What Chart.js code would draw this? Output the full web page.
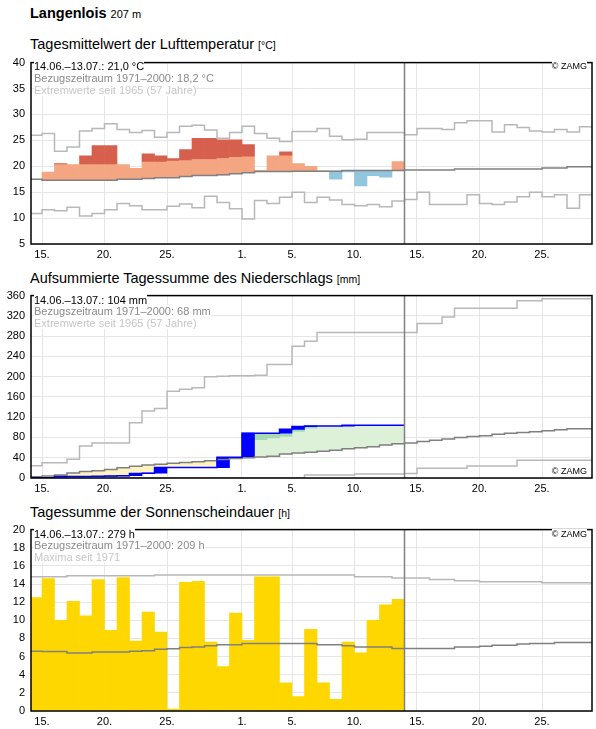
<!DOCTYPE html>
<html lang="de">
<head>
<meta charset="UTF-8">
<title>Langenlois</title>
<script src="https://cdn.jsdelivr.net/npm/chart.js"></script>
<style>
body { margin:0; background:#fff; font-family: Arial, "Liberation Sans", sans-serif; }
#page { position:relative; width:596px; height:729px; overflow:hidden; }
canvas { position:absolute; left:0; }
.hd { position:absolute; left:30px; font-size:14.5px; font-weight:bold; line-height:17px; white-space:nowrap; }
.hd span { font-weight:normal; font-size:11px; }
.ttl { position:absolute; left:30px; font-size:14.5px; line-height:17px; white-space:nowrap; color:#000; }
.ttl span { font-size:10.5px; }
.info { position:absolute; left:34px; font-size:11px; white-space:nowrap; }
.info span { background:#fff; }
.l1 { color:#000; } .l2 { color:#8a8a8a; } .l3 { color:#c6c6c6; }
.zamg { position:absolute; right:9px; font-size:9px; line-height:11px; background:#fff; color:#000; }
</style>
</head>
<body>
<div id="page">
  <div class="hd" style="top:5px">Langenlois <span>207 m</span></div>

  <div class="ttl" style="top:36px">Tagesmittelwert der Lufttemperatur <span>[°C]</span></div>
  <canvas id="tempChart" width="596" height="216" style="top:50px"></canvas>
  <div class="info" style="top:59.5px;line-height:12px">
    <div class="l1"><span>14.06.–13.07.: 21,0 °C</span></div>
    <div class="l2"><span>Bezugszeitraum 1971–2000: 18,2 °C</span></div>
    <div class="l3"><span>Extremwerte seit 1965 (57 Jahre)</span></div>
  </div>
  <div class="zamg" style="top:61px">© ZAMG</div>

  <div class="ttl" style="top:270px">Aufsummierte Tagessumme des Niederschlags <span>[mm]</span></div>
  <canvas id="rainChart" width="596" height="217" style="top:283px"></canvas>
  <div class="info" style="top:294.7px;line-height:11.5px">
    <div class="l1"><span>14.06.–13.07.: 104 mm</span></div>
    <div class="l2"><span>Bezugszeitraum 1971–2000: 68 mm</span></div>
    <div class="l3"><span>Extremwerte seit 1965 (57 Jahre)</span></div>
  </div>
  <div class="zamg" style="top:466px">© ZAMG</div>

  <div class="ttl" style="top:503.5px">Tagessumme der Sonnenscheindauer <span>[h]</span></div>
  <canvas id="sunChart" width="596" height="216" style="top:517px"></canvas>
  <div class="info" style="top:528.7px;line-height:11.5px">
    <div class="l1"><span>14.06.–13.07.: 279 h</span></div>
    <div class="l2"><span>Bezugszeitraum 1971–2000: 209 h</span></div>
    <div class="l3"><span>Maxima seit 1971</span></div>
  </div>
  <div class="zamg" style="top:529px">© ZAMG</div>
</div>

<script>
// day index 0 = 14.06., 44 = 28.07.; observed days are 0..29 (14.06.–13.07.)
const tickDays = [1, 6, 11, 17, 21, 26, 31, 36, 41];
const tickLabels = ['15.', '20.', '25.', '1.', '5.', '10.', '15.', '20.', '25.'];
const nowDay = 30;

// Lufttemperatur (°C)
const tempValues = [17.5, 18.9, 20.5, 20.3, 22.0, 24.0, 24.0, 20.3, 19.6, 22.4,
                    22.0, 21.5, 23.2, 25.4, 25.4, 25.1, 25.1, 24.2, 19.2, 22.0,
                    22.8, 20.5, 20.0, 19.1, 17.5, 18.9, 16.2, 18.2, 17.9, 20.9];
const tempBand = [20.3, 20.3, 20.3, 20.3, 20.3, 20.3, 20.3, 20.4, 20.6, 20.8,
                  20.8, 21.0, 21.1, 21.3, 21.3, 21.5, 21.7, 21.8, 21.9, 22.0,
                  22.0, 22.1, 22.1, 22.1, 22.2, 22.2, 22.2, 22.3, 22.3, 22.3];
const tempNormal = [17.5, 17.3, 17.3, 17.3, 17.3, 17.3, 17.3, 17.5, 17.5, 17.65,
                    17.8, 17.8, 18.0, 18.2, 18.2, 18.35, 18.55, 18.75, 19.0, 19.0,
                    19.0, 19.05, 19.05, 19.05, 19.05, 19.2, 19.2, 19.2, 19.2, 19.2,
                    19.3, 19.3, 19.3, 19.3, 19.45, 19.45, 19.45, 19.45, 19.45, 19.45,
                    19.45, 19.65, 19.65, 19.9, 19.9];
const tempMax = [26.0, 26.3, 22.9, 23.7, 26.8, 27.3, 28.2, 27.1, 26.5, 26.9,
                 25.6, 26.5, 27.7, 27.9, 27.0, 25.4, 26.5, 27.7, 26.3, 25.4,
                 24.8, 26.7, 26.7, 27.3, 25.8, 25.1, 25.2, 26.5, 26.5, 26.5,
                 26.1, 27.3, 27.3, 27.1, 28.4, 28.8, 28.8, 26.6, 28.0, 27.5,
                 26.8, 26.6, 27.1, 26.6, 27.6];
const tempMin = [10.9, 11.6, 11.4, 12.1, 10.4, 10.9, 11.6, 12.8, 12.4, 11.6,
                 11.6, 12.3, 12.7, 12.0, 14.2, 13.0, 11.8, 9.8, 13.4, 12.8,
                 14.0, 15.0, 13.0, 14.0, 13.5, 12.6, 12.4, 12.6, 12.2, 13.3,
                 13.6, 15.0, 12.6, 12.6, 12.6, 14.5, 12.8, 12.6, 13.1, 14.1,
                 15.0, 14.1, 14.5, 11.9, 14.5];

// Niederschlag, aufsummiert (mm)
const rainCum = [0.5, 0.5, 3, 3, 3, 3.5, 4, 4.5, 9, 9.5,
                 20.5, 20.5, 20.5, 20.5, 20.5, 41, 41, 88.5, 88.5, 88.5,
                 96, 101.5, 102.5, 102.5, 102.5, 104, 104, 104, 104, 104];
const rainDark = [null, null, null, null, null, null, null, null, null, null,
                  null, null, null, null, null, null, null, null, [75.5, 87.5], [79, 87.5],
                  [82, 88.5], [92, 96], [98.5, 101.5], null, null, null, null, null, null, null];
const rainNormal = [2.5, 4, 6, 10, 13, 14.5, 17, 20, 23, 25.5,
                    27, 29, 30.5, 32, 34, 36.5, 38.5, 40, 41.5, 43,
                    47.5, 49.5, 51, 53, 55, 57.5, 59.5, 61.5, 65, 67.5,
                    69, 72, 74.5, 77, 80, 82, 83.5, 86.5, 88.5, 90,
                    91.5, 93.5, 95, 97, 97];
const rainMax = [24, 30, 30, 37, 63, 69, 69, 69, 109, 132,
                 137, 171, 175, 178, 200, 201, 202, 202, 203, 224,
                 224, 260, 270, 287, 287, 287, 287, 287, 287, 287,
                 287, 305, 305, 318, 335, 335, 335, 335, 335, 350,
                 350, 354, 354, 354, 354];
const rainMin = [0, 0, 0, 0, 0, 0, 0, 0, 0, 0,
                 0, 0, 0, 0, 0, 0, 0, 0, 0, 0,
                 0, 0, 5.7, 5.7, 5.7, 5.7, 7.7, 7.7, 7.7, 7.7,
                 9, 19.3, 19.3, 19.3, 19.3, 23.8, 23.8, 23.8, 23.8, 34.8,
                 34.8, 34.8, 34.8, 34.8, 34.8];

// Sonnenscheindauer (h)
const sunValues = [12.5, 14.6, 10.0, 12.1, 10.5, 14.5, 8.9, 14.7, 7.7, 10.9,
                   8.7, 0.2, 14.2, 14.3, 7.6, 4.9, 10.8, 7.8, 14.8, 14.8,
                   3.1, 1.6, 9.0, 3.1, 1.3, 7.6, 6.4, 10.0, 11.7, 12.3];
const sunNormal = [6.6, 6.55, 6.55, 6.4, 6.4, 6.5, 6.5, 6.5, 6.6, 6.65,
                   6.8, 6.85, 7.0, 7.05, 7.2, 7.3, 7.3, 7.45, 7.45, 7.45,
                   7.45, 7.45, 7.45, 7.3, 7.3, 7.2, 7.05, 7.05, 7.05, 6.9,
                   6.9, 6.9, 6.9, 6.9, 7.05, 7.05, 7.15, 7.25, 7.25, 7.4,
                   7.45, 7.45, 7.55, 7.55, 7.55];
const sunMax = [14.8, 14.8, 14.8, 14.9, 14.9, 14.9, 14.9, 14.9, 14.9, 14.9,
                15.0, 15.0, 15.0, 15.0, 15.0, 15.0, 15.0, 15.0, 15.0, 15.0,
                15.0, 15.0, 15.0, 15.0, 15.0, 15.0, 14.8, 14.8, 14.8, 14.65,
                14.65, 14.65, 14.5, 14.5, 14.35, 14.35, 14.25, 14.25, 14.25, 14.25,
                14.25, 14.15, 14.15, 14.15, 14.15];

Chart.defaults.font.family = 'Arial, "Liberation Sans", sans-serif';
Chart.defaults.font.size = 11;

function stepLine(arr, color) {
  const pts = arr.map((v, i) => ({x: i, y: v}));
  pts.push({x: arr.length, y: arr[arr.length - 1]});
  return {type: 'line', data: pts, borderColor: color, borderWidth: 1.5,
          pointRadius: 0, stepped: true, fill: false, order: 0};
}

function floatBars(ranges, color, order) {
  const pts = [];
  ranges.forEach((r, i) => { if (r && r[1] > r[0]) pts.push({x: i + 0.5, y: r}); });
  return {type: 'bar', data: pts, backgroundColor: color, borderWidth: 0,
          grouped: false, barPercentage: 1, categoryPercentage: 1, order: order};
}

// plot frame + "today" line
const frame = {
  id: 'frame',
  afterDatasetsDraw(chart) {
    const {ctx, chartArea: a, scales} = chart;
    const x = scales.x.getPixelForValue(nowDay);
    ctx.save();
    ctx.strokeStyle = '#808080';
    ctx.lineWidth = 1.5;
    ctx.beginPath();
    ctx.moveTo(x, a.top);
    ctx.lineTo(x, a.bottom);
    ctx.stroke();
    ctx.strokeStyle = '#000';
    ctx.lineWidth = 1.5;
    ctx.strokeRect(a.left, a.top, a.right - a.left, a.bottom - a.top);
    ctx.restore();
  }
};

function makeChart(id, yMin, yMax, step, datasets) {
  return new Chart(document.getElementById(id), {
    type: 'bar',
    data: { datasets: datasets },
    options: {
      responsive: false,
      animation: false,
      layout: { padding: { top: 9, right: 4, left: 0, bottom: 0 } },
      plugins: { legend: { display: false }, tooltip: { enabled: false } },
      scales: {
        x: {
          type: 'linear', min: 0.12, max: 45, offset: false,
          grid: { color: '#e6e6e6', drawTicks: false, offset: false },
          border: { display: false },
          afterBuildTicks: s => { s.ticks = tickDays.map(v => ({ value: v })); },
          afterFit: s => { s.height = 22; },
          ticks: { autoSkip: false, maxRotation: 0, padding: 4, color: '#000',
                   callback: v => tickLabels[tickDays.indexOf(v)] }
        },
        y: {
          min: yMin, max: yMax,
          grid: { color: '#e6e6e6', drawTicks: false },
          border: { display: false },
          afterFit: s => { s.width = 31; },
          ticks: { stepSize: step, padding: 6, color: '#000' }
        }
      }
    },
    plugins: [frame]
  });
}

// temperature chart
const tSalmon = tempValues.map((v, i) => v > tempNormal[i] ? [tempNormal[i], Math.min(v, tempBand[i])] : null);
const tRed = tempValues.map((v, i) => v > tempBand[i] ? [tempBand[i], v] : null);
const tBlue = tempValues.map((v, i) => v < tempNormal[i] ? [v, tempNormal[i]] : null);

makeChart('tempChart', 5, 40, 5, [
  stepLine(tempMax, '#b8b8b8'),
  stepLine(tempMin, '#b8b8b8'),
  stepLine(tempNormal, '#808080'),
  floatBars(tSalmon, '#f4a582', 1),
  floatBars(tRed, '#d6604d', 1),
  floatBars(tBlue, '#92c5de', 1)
]);

// precipitation chart
const rYellow = rainCum.map((v, i) => v < rainNormal[i] ? [v, rainNormal[i]] : null);
const rGreen = rainCum.map((v, i) => v > rainNormal[i] ? [rainNormal[i], v] : null);
const rBlue = rainCum.map((v, i) => [i > 0 ? rainCum[i - 1] : 0, v]);

const rainLine = stepLine(rainCum, '#0000ff');
makeChart('rainChart', 0, 360, 40, [
  rainLine,
  stepLine(rainMax, '#b8b8b8'),
  stepLine(rainMin, '#b8b8b8'),
  stepLine(rainNormal, '#808080'),
  floatBars(rBlue, '#0000ff', 1),
  floatBars(rainDark, '#a6dab3', 2),
  floatBars(rYellow, '#fff4bf', 2),
  floatBars(rGreen, '#ddf1d9', 3)
]);

// sunshine chart
makeChart('sunChart', 0, 20, 2, [
  stepLine(sunMax, '#b8b8b8'),
  stepLine(sunNormal, '#808080'),
  floatBars(sunValues.map(v => [0, v]), '#ffd700', 1)
]);
</script>
</body>
</html>
